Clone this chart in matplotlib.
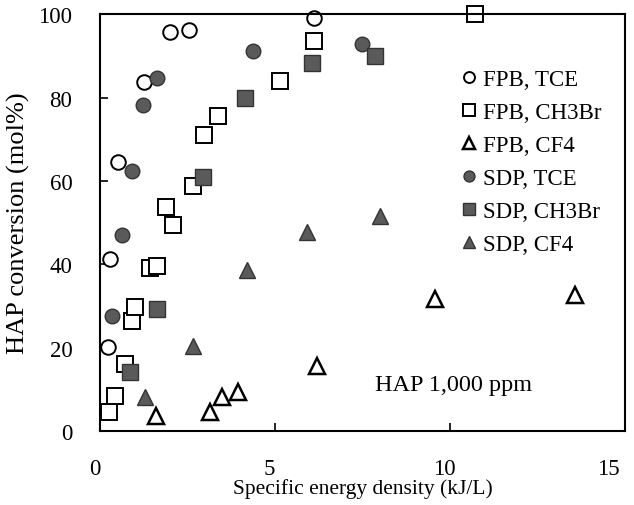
import matplotlib
matplotlib.use("Agg")
import matplotlib.pyplot as plt
from matplotlib.transforms import ScaledTranslation

plt.rcParams['font.family'] = ['Liberation Serif', 'DejaVu Serif']

# FPB = open markers, SDP = filled markers
fpb_tce_x = [0.21, 0.29, 0.52, 1.24, 2.0, 2.55, 6.11]
fpb_tce_y = [20.1, 41.2, 64.5, 83.8, 95.7, 96.2, 99.0]

fpb_ch3br_x = [0.24, 0.43, 0.72, 0.92, 1.0, 1.41, 1.62, 2.08, 1.88, 2.66, 2.97, 3.36, 5.14, 6.12, 10.7]
fpb_ch3br_y = [4.6, 8.4, 16.1, 26.4, 29.7, 39.2, 39.6, 49.5, 53.7, 58.8, 71.0, 75.5, 83.9, 93.5, 100]

fpb_cf4_x = [1.6, 3.14, 3.48, 3.95, 6.2, 9.57, 13.57]
fpb_cf4_y = [3.6, 4.5, 8.2, 9.4, 15.6, 31.8, 32.6]

sdp_tce_x = [0.33, 0.62, 0.9, 1.22, 1.62, 4.38, 7.49]
sdp_tce_y = [27.6, 47.0, 62.4, 78.2, 84.6, 91.2, 92.8]

sdp_ch3br_x = [0.84, 1.63, 2.95, 4.14, 6.05, 7.86]
sdp_ch3br_y = [14.1, 29.3, 61.0, 79.9, 88.3, 89.9]

sdp_cf4_x = [1.28, 2.65, 4.2, 5.9, 8.0]
sdp_cf4_y = [8.2, 20.4, 38.6, 47.7, 51.5]

fig = plt.figure(figsize=(6.34, 5.06), dpi=100)
ax = fig.add_axes([0.158, 0.146, 0.828, 0.824])

grey = '#5a5a5a'
ms = 10.5
ew = 1.4

ax.plot(fpb_tce_x, fpb_tce_y, 'o', ms=ms, mfc='white', mec='black', mew=ew, label='FPB, TCE', clip_on=False)
ax.plot(fpb_ch3br_x, fpb_ch3br_y, 's', ms=ms + 0.5, mfc='white', mec='black', mew=ew, label='FPB, CH3Br', clip_on=False)
ax.plot(fpb_cf4_x, fpb_cf4_y, '^', ms=ms + 1, mfc='white', mec='black', mew=ew + 0.4, label='FPB, CF4', clip_on=False)
ax.plot(sdp_tce_x, sdp_tce_y, 'o', ms=ms, mfc=grey, mec='#333333', mew=1.0, label='SDP, TCE', clip_on=False)
ax.plot(sdp_ch3br_x, sdp_ch3br_y, 's', ms=ms + 0.5, mfc=grey, mec='#333333', mew=1.0, label='SDP, CH3Br', clip_on=False)
ax.plot(sdp_cf4_x, sdp_cf4_y, '^', ms=ms + 1, mfc=grey, mec='#333333', mew=1.0, label='SDP, CF4', clip_on=False)

ax.set_xlim(0, 15)
ax.set_ylim(0, 100)
ax.set_xticks([0, 5, 10, 15])
ax.set_yticks([0, 20, 40, 60, 80, 100])
ax.tick_params(direction='in', length=6, width=1.2, labelsize=16.5, top=False, right=False)
ax.tick_params(axis='x', pad=19)
ax.tick_params(axis='y', pad=20)
for s in ax.spines.values():
    s.set_linewidth(1.5)

# the scanned labels sit a little left of their ticks
shift = ScaledTranslation(-4 / 72, 0, fig.dpi_scale_trans)
xlabels = ax.get_xticklabels()
for lab in xlabels:
    lab.set_transform(lab.get_transform() + shift)
xlabels[-1].set_horizontalalignment('right')

ax.set_xlabel('Specific energy density (kJ/L)', fontsize=15.5, labelpad=0)
ax.set_ylabel('HAP conversion (mol%)', fontsize=19, labelpad=6)

ax.text(7.85, 11.3, 'HAP 1,000 ppm', fontsize=17.5, ha='left', va='center')

ax.legend(loc='upper left', bbox_to_anchor=(0.664, 0.895), frameon=False, fontsize=16.5,
          handlelength=0.8, handletextpad=0.2, labelspacing=0.52, borderpad=0,
          markerscale=0.75)

fig.savefig('out.png', dpi=100)
